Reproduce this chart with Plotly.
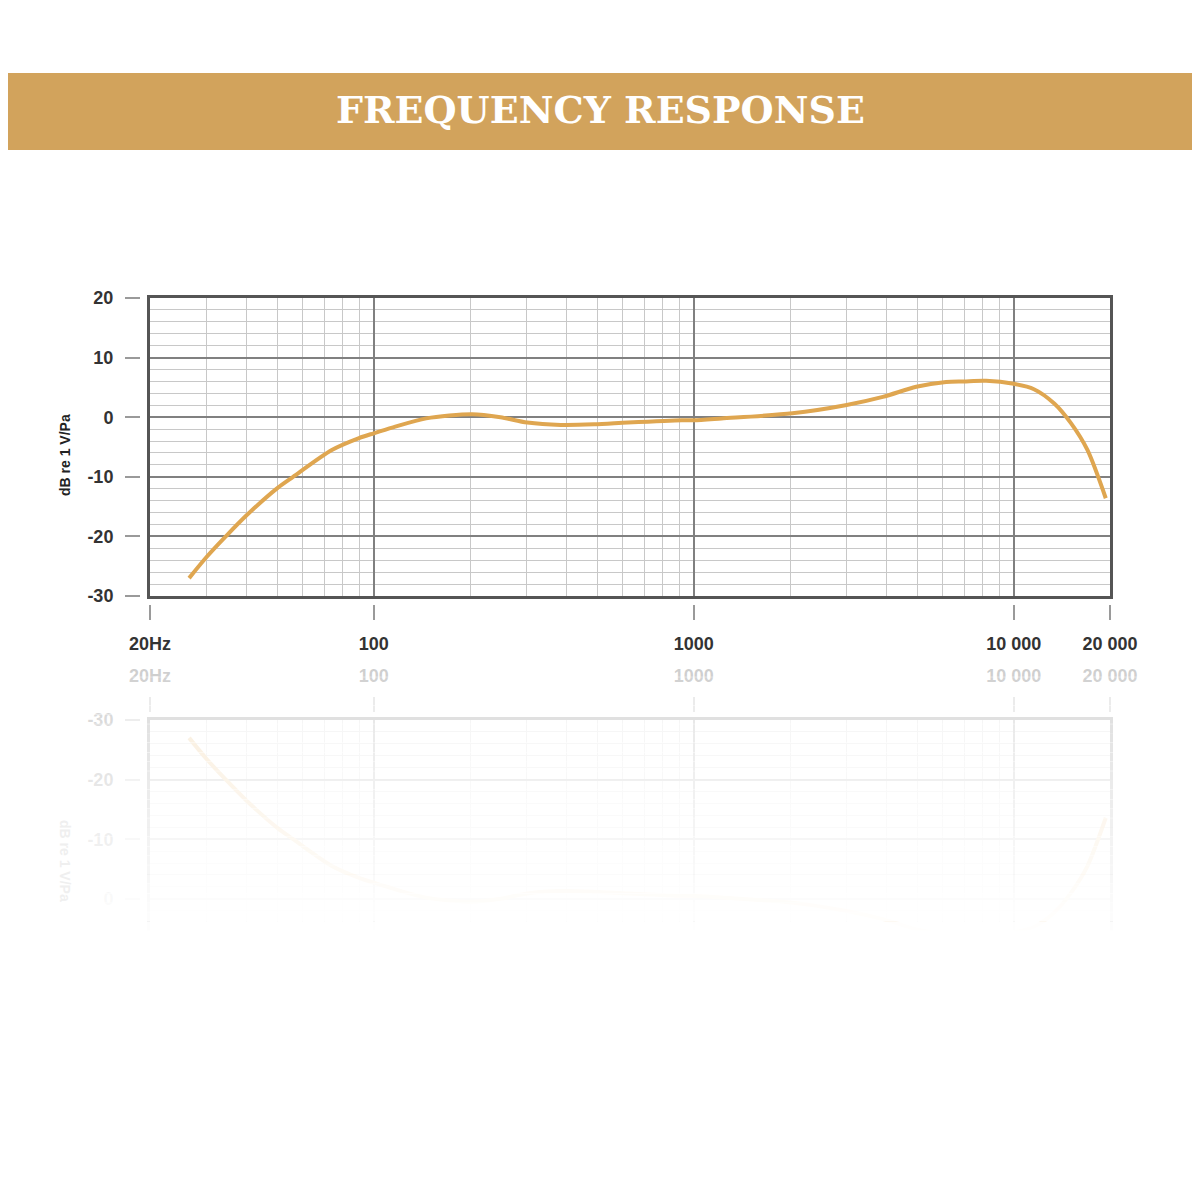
import numpy as np
import plotly.graph_objects as go

# frequency response (Hz, dB re 1 V/Pa)
freq = [26.5, 30, 34.5, 40, 50, 56, 74, 90, 100, 115, 146, 203, 249, 302, 384,
        489, 623, 918, 1000, 1222, 2035, 2980, 3900, 4960, 6150, 6980, 8200, 10000,
        11570, 13390, 15100, 17000, 19400]
level = [-27.0, -23.5, -20.0, -16.5, -11.9, -10.0, -5.5, -3.5, -2.7, -1.7, -0.2,
         0.5, 0.0, -0.9, -1.3, -1.2, -0.9, -0.5, -0.5, -0.2, 0.65, 2.0, 3.4, 5.1, 5.9,
         6.0, 6.1, 5.6, 4.7, 2.3, -1.0, -5.5, -13.6]

x_ticks = [20, 100, 1000, 10000, 20000]
x_labels = ["20Hz", "100", "1000", "10 000", "20 000"]
x_major = [100, 1000, 10000]
x_minor = [30, 40, 50, 60, 70, 80, 90, 200, 300, 400, 500, 600, 700, 800, 900,
           2000, 3000, 4000, 5000, 6000, 7000, 8000, 9000]
y_ticks = [-30, -20, -10, 0, 10, 20]
y_labels = ["-30", "-20", "-10", "0", "10", "20"]

GOLD = "#D2A35C"
CURVE = "#DFA650"
W = H = 1200
OFF = 8  # page margin in front of the figure
xrange_log = [np.log10(20), np.log10(20000)]


def px(v):
    return (v - OFF) / W


def py(v):
    return 1 - (v - OFF) / H


xdom = [px(150), px(1110)]

fig = go.Figure()

for xa, ya in [("x", "y"), ("x2", "y2")]:
    fig.add_trace(go.Scatter(x=freq, y=level, mode="lines", xaxis=xa, yaxis=ya,
                             line=dict(color=CURVE, width=4, shape="spline", smoothing=0.8),
                             hoverinfo="skip", showlegend=False))
# invisible traces so the tick-only overlay axes get drawn
for xa, ya in [("x3", "y3"), ("x4", "y4")]:
    fig.add_trace(go.Scatter(x=[20, 20000], y=[-30, 20], mode="markers", xaxis=xa, yaxis=ya,
                             marker=dict(opacity=0), hoverinfo="skip", showlegend=False))

grid_x = dict(type="log", range=xrange_log, domain=xdom, tickvals=x_major,
              showticklabels=False, ticks="", showgrid=True, gridcolor="#808080",
              gridwidth=1.8, zeroline=False, showline=True, mirror=True,
              linecolor="#555", linewidth=2.5, automargin=False,
              minor=dict(tickvals=x_minor, showgrid=True, gridcolor="#c8c8c8", gridwidth=1.3))
grid_y = dict(tickvals=[-20, -10, 0, 10], showticklabels=False, ticks="",
              showgrid=True, gridcolor="#808080", gridwidth=1.8, zeroline=False,
              showline=True, mirror=True, linecolor="#555", linewidth=2.5, automargin=False,
              minor=dict(dtick=2, showgrid=True, gridcolor="#c8c8c8", gridwidth=1.3))

tick_font = dict(family="Liberation Sans, Arial", size=18, color="#333", weight="bold")
tick_x = dict(type="log", range=xrange_log, anchor="free", tickvals=x_ticks,
              ticktext=x_labels, ticks="outside", ticklen=15, tickwidth=1.5,
              tickcolor="#9a9a9a", showgrid=False, showline=False, zeroline=False,
              tickfont=tick_font, ticklabelstandoff=8, automargin=False)
tick_y = dict(anchor="free", position=px(140), tickvals=y_ticks, ticktext=y_labels,
              ticks="outside", ticklen=15, tickwidth=1.5, tickcolor="#9a9a9a",
              showgrid=False, showline=False, zeroline=False, tickfont=tick_font,
              ticklabelstandoff=8, automargin=False)

fig.update_layout(
    width=W, height=H, margin=dict(l=0, r=0, t=0, b=0, pad=0, autoexpand=False),
    autosize=False, paper_bgcolor="white", plot_bgcolor="white",
    xaxis=dict(grid_x, anchor="y"),
    yaxis=dict(grid_y, range=[-30, 20], domain=[py(596), py(298)], anchor="x"),
    xaxis2=dict(grid_x, anchor="y2"),
    yaxis2=dict(grid_y, range=[20, -30], domain=[py(1018), py(720)], anchor="x2"),
    xaxis3=dict(tick_x, overlaying="x", position=py(604)),
    yaxis3=dict(tick_y, range=[-30, 20], overlaying="y"),
    xaxis4=dict(tick_x, overlaying="x2", position=py(712), side="top"),
    yaxis4=dict(tick_y, range=[20, -30], overlaying="y2"),
)

# title banner
fig.add_shape(type="rect", xref="paper", yref="paper", x0=-0.02, x1=1.02, y0=py(150),
              y1=py(73), fillcolor=GOLD, line_width=0, layer="below")
fig.add_annotation(text="FREQUENCY RESPONSE", xref="paper", yref="paper", x=px(600),
                   y=py(110), showarrow=False, xanchor="center", yanchor="middle",
                   font=dict(family="DejaVu Serif", size=38, color="white", weight="bold"))

# fade the reflection out with white strips
top, bottom, n = 658, 940, 30
step = (bottom - top) / n
for i in range(n):
    op = min(1.0, 0.75 + 0.25 * (i / (n - 1)) ** 0.8)
    fig.add_shape(type="rect", xref="paper", yref="paper", x0=0, x1=1,
                  y0=py(top + (i + 1) * step + 0.5), y1=py(top + i * step),
                  fillcolor="white", opacity=op, line_width=0, layer="above")
fig.add_shape(type="rect", xref="paper", yref="paper", x0=0, x1=1, y0=0, y1=py(bottom),
              fillcolor="white", line_width=0, layer="above")

fig.add_annotation(text="dB re 1 V/Pa", xref="paper", yref="paper", x=px(65), y=py(455),
                   textangle=-90, showarrow=False, xanchor="center", yanchor="middle",
                   font=dict(family="Liberation Sans, Arial", size=14, color="#222",
                             weight="bold"))
# faint mirrored label of the reflection
fig.add_annotation(text="dB re 1 V/Pa", xref="paper", yref="paper", x=px(65), y=py(861),
                   textangle=90, showarrow=False, xanchor="center", yanchor="middle",
                   font=dict(family="Liberation Sans, Arial", size=14, color="#efefef",
                             weight="bold"))

fig.write_html("out.html")
